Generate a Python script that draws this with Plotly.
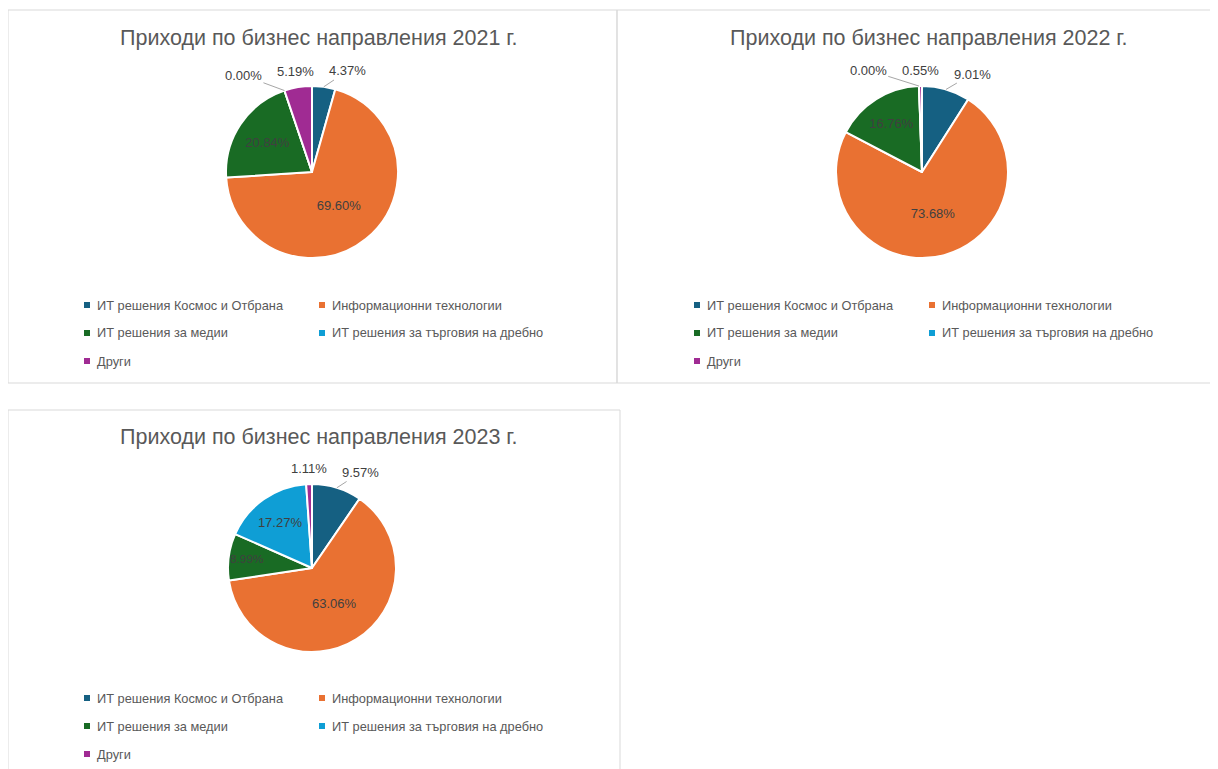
import math
import plotly.graph_objects as go

# page body has an 8px margin: the figure is shrunk by it, px coords are page coords
OFF = 8
FW, FH = 1218 - OFF, 769 - OFF

categories = ["ИТ решения Космос и Отбрана", "Информационни технологии",
              "ИТ решения за медии", "ИТ решения за търговия на дребно", "Други"]
colors = ["#156082", "#E97132", "#196B24", "#0F9ED5", "#A02B93"]

years = ["2021", "2022", "2023"]
values_2021 = [4.37, 69.60, 20.84, 0.00, 5.19]
values_2022 = [9.01, 73.68, 16.76, 0.00, 0.55]
values_2023 = [9.57, 63.06, 8.99, 17.27, 1.11]
series = [values_2021, values_2022, values_2023]
title_tpl = "Приходи по бизнес направления {} г."

# label placement per category (zero-value slices always outside)
label_side = ["outside", "inside", "inside", "inside", "outside"]

# layout in page pixels
panels = [(8, 10, 617, 383), (617, 10, 1222, 383), (8, 410, 620, 775)]
pie_boxes = [(226, 86, 398, 258), (836, 86, 1008, 258), (228, 484, 396, 652)]
legend_origin = [(84, 305), (694, 305), (84, 698)]
title_pos = [(319, 38), (929, 38), (319, 437)]

LABEL_FONT = dict(family="Liberation Sans", size=13, color="#404040")


def px(x):
    return (x - OFF) / FW


def py(y):
    return 1 - (y - OFF) / FH


fig = go.Figure()
shapes = []
annotations = []

for i, (yr, vals) in enumerate(zip(years, series)):
    x0, y0, x1, y1 = pie_boxes[i]
    cx, cy = (x0 + x1) / 2, (y0 + y1) / 2
    R = (x1 - x0) / 2
    positions = []
    for k, v in enumerate(vals):
        positions.append("inside" if (label_side[k] == "inside" and v > 0) else "none")
    fig.add_trace(go.Pie(
        labels=categories, values=vals, sort=False, direction="clockwise",
        rotation=0,
        marker=dict(colors=colors, line=dict(color="white", width=2)),
        texttemplate="%{value:.2f}%", textposition=positions,
        insidetextorientation="horizontal",
        textfont=LABEL_FONT,
        domain=dict(x=[px(x0), px(x1)], y=[py(y1), py(y0)]),
        showlegend=False, hoverinfo="label+percent",
    ))

    # outside labels: placed radially from the slice mid-angle, then spread apart
    total = sum(vals)
    cum = 0.0
    outs = []
    for k, v in enumerate(vals):
        mid = math.radians((cum + v / 2) / total * 360)
        cum += v
        if positions[k] == "inside":
            continue
        rl = R + 16
        lx = cx + rl * math.sin(mid)
        ly = cy - rl * math.cos(mid)
        outs.append(dict(k=k, v=v, mid=mid, x=lx, y=ly, x_nat=lx))
    outs.sort(key=lambda d: d["x"])
    MINGAP = 52
    for _ in range(3):
        for a, b in zip(outs, outs[1:]):
            if b["x"] - a["x"] < MINGAP and abs(b["y"] - a["y"]) < 16:
                if math.sin(b["mid"]) > 0:
                    b["x"] = a["x"] + MINGAP
                else:
                    a["x"] = b["x"] - MINGAP
    for d in outs:
        ex = cx + R * math.sin(d["mid"])
        ey = cy - R * math.cos(d["mid"])
        moved = abs(d["x"] - d["x_nat"]) > 10
        if moved:
            annotations.append(dict(
                text=f"{d['v']:.2f}%", x=px(ex), y=py(ey), xref="paper", yref="paper",
                ax=d["x"] - ex, ay=d["y"] - ey, axref="pixel", ayref="pixel",
                showarrow=True, arrowhead=0, arrowwidth=1, arrowcolor="#a6a6a6",
                standoff=0, startstandoff=0, font=LABEL_FONT,
                xanchor="center", yanchor="middle"))
        else:
            annotations.append(dict(
                text=f"{d['v']:.2f}%", x=px(d["x"]), y=py(d["y"]), xref="paper", yref="paper",
                showarrow=False, font=LABEL_FONT, xanchor="center", yanchor="middle"))

    # panel border
    a0, b0, a1, b1 = panels[i]
    shapes.append(dict(type="rect", xref="paper", yref="paper",
                       x0=px(a0), x1=px(a1), y0=py(b1), y1=py(b0),
                       line=dict(color="#d9d9d9", width=1), layer="below"))
    # title
    tx, ty = title_pos[i]
    annotations.append(dict(text=title_tpl.format(yr), x=px(tx), y=py(ty),
                            xref="paper", yref="paper", showarrow=False,
                            xanchor="center", yanchor="middle",
                            font=dict(family="Liberation Sans", size=21.5, color="#595959")))
    # legend
    lx, ly = legend_origin[i]
    for k, (cat, col) in enumerate(zip(categories, colors)):
        mx = lx + (k % 2) * 235
        my = ly + (k // 2) * 28
        shapes.append(dict(type="rect", xref="paper", yref="paper",
                           x0=px(mx), x1=px(mx + 6), y0=py(my + 3), y1=py(my - 3),
                           fillcolor=col, line=dict(width=0)))
        annotations.append(dict(text=cat, x=px(mx + 11), y=py(my), xref="paper", yref="paper",
                                showarrow=False, xanchor="left", yanchor="middle",
                                font=dict(family="Liberation Sans", size=12.8, color="#595959")))

fig.update_layout(
    width=FW, height=FH, margin=dict(l=0, r=0, t=0, b=0),
    paper_bgcolor="white", plot_bgcolor="white",
    shapes=shapes, annotations=annotations,
)

fig.write_html("out.html")
